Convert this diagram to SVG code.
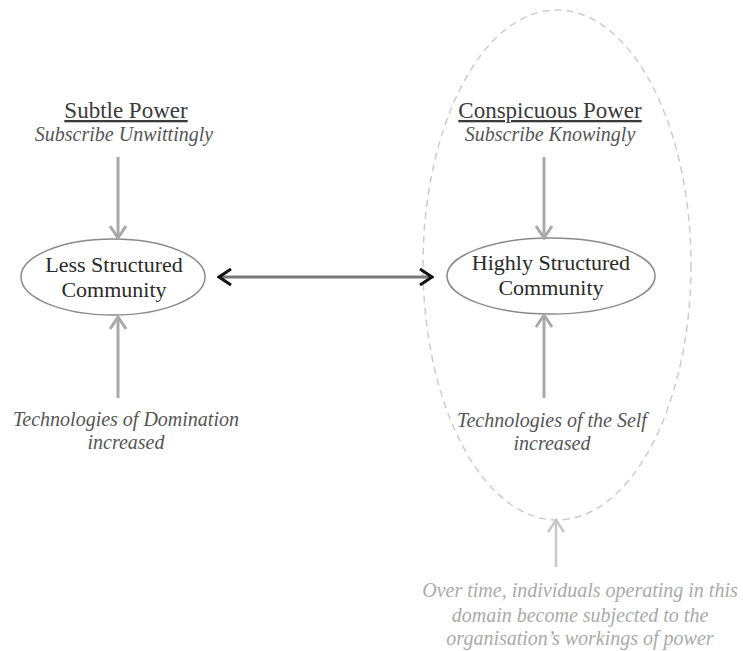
<svg xmlns="http://www.w3.org/2000/svg" width="743" height="651" viewBox="0 0 743 651">
<defs>
<style>
.title{font-family:"Liberation Serif","Times New Roman",serif;font-size:23px;fill:#3a3a3a;text-anchor:middle;text-decoration:underline}
.sub{font-family:"Liberation Serif","Times New Roman",serif;font-size:20px;font-style:italic;fill:#555;text-anchor:middle}
.node{font-family:"Liberation Serif","Times New Roman",serif;font-size:22px;fill:#2a2a2a;text-anchor:middle}
.note{font-family:"Liberation Serif","Times New Roman",serif;font-size:20px;font-style:italic;fill:#aaa;text-anchor:middle}
.ell{fill:none;stroke:#8a8a8a;stroke-width:1.5}
.garrow{stroke:#a9a9a9;stroke-width:3;fill:none;marker-end:url(#gh)}
</style>
<marker id="gh" markerUnits="userSpaceOnUse" markerWidth="16" markerHeight="20" viewBox="0 0 16 20" refX="14" refY="10" orient="auto">
<path d="M2,2 L14,10 L2,18" fill="none" stroke="#a9a9a9" stroke-width="3"/>
</marker>
<marker id="lh" markerUnits="userSpaceOnUse" markerWidth="16" markerHeight="20" viewBox="0 0 16 20" refX="14" refY="10" orient="auto">
<path d="M2,2 L14,10 L2,18" fill="none" stroke="#c8c8c8" stroke-width="2.5"/>
</marker>
<marker id="bh" markerUnits="userSpaceOnUse" markerWidth="16" markerHeight="20" viewBox="0 0 16 20" refX="14" refY="10" orient="auto-start-reverse">
<path d="M2,2 L14,10 L2,18" fill="none" stroke="#111" stroke-width="3"/>
</marker>
</defs>
<rect width="743" height="651" fill="#fff"/>

<g id="domain">
<ellipse cx="557" cy="265" rx="134" ry="255" fill="none" stroke="#cdcdcd" stroke-width="1.5" stroke-dasharray="7 5"/>
</g>

<g id="subtle-power">
<text class="title" x="126" y="118">Subtle Power</text>
<text class="sub" x="124" y="141">Subscribe Unwittingly</text>
</g>

<g id="conspicuous-power">
<text class="title" x="550" y="118">Conspicuous Power</text>
<text class="sub" x="550" y="141">Subscribe Knowingly</text>
</g>

<g id="less-structured">
<ellipse class="ell" cx="113" cy="277" rx="92" ry="38"/>
<text class="node" x="114" y="272">Less Structured</text>
<text class="node" x="114" y="297">Community</text>
</g>

<g id="highly-structured">
<ellipse class="ell" cx="551" cy="276" rx="104" ry="38"/>
<text class="node" x="551" y="270">Highly Structured</text>
<text class="node" x="551" y="295">Community</text>
</g>

<g id="domination">
<text class="sub" x="126" y="426">Technologies of Domination</text>
<text class="sub" x="126" y="449">increased</text>
</g>

<g id="self">
<text class="sub" x="552" y="427">Technologies of the Self</text>
<text class="sub" x="552" y="450">increased</text>
</g>

<g id="note">
<text class="note" x="580" y="597">Over time, individuals operating in this</text>
<text class="note" x="580" y="622">domain become subjected to the</text>
<text class="note" x="580" y="645">organisation’s workings of power</text>
</g>

<g id="connectors">
<line class="garrow" x1="118" y1="157" x2="118" y2="238"/>
<line class="garrow" x1="118" y1="398" x2="118" y2="317"/>
<line class="garrow" x1="544" y1="157" x2="544" y2="238"/>
<line class="garrow" x1="544" y1="398" x2="544" y2="315"/>
<line x1="556" y1="567" x2="556" y2="520" stroke="#c8c8c8" stroke-width="2.5" marker-end="url(#lh)"/>
<line x1="219" y1="277" x2="432" y2="277" stroke="#777" stroke-width="3" marker-start="url(#bh)" marker-end="url(#bh)"/>
</g>
</svg>
